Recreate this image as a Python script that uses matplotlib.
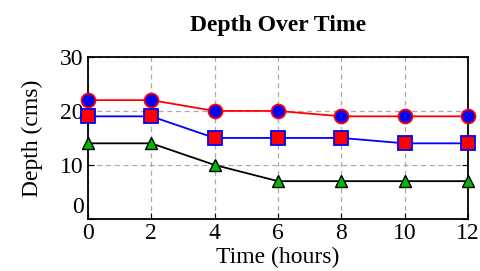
import matplotlib
matplotlib.use("Agg")
import matplotlib.pyplot as plt
import matplotlib.transforms as mtransforms

time_hours = [0, 2, 4, 6, 8, 10, 12]
series_circle = [22, 22, 20, 20, 19, 19, 19]
series_square = [19, 19, 15, 15, 15, 14, 14]
series_triangle = [14, 14, 10, 7, 7, 7, 7]
y_ticks = [0, 10, 20, 30]

plt.rcParams['font.family'] = ['Liberation Serif', 'DejaVu Serif']

fig = plt.figure(figsize=(4.8, 2.71), dpi=100)
ax = fig.add_axes([0.183, 0.192, 0.792, 0.598])

ax.plot(time_hours, series_circle, color='red', lw=1.3, marker='o', ms=10,
        mfc='blue', mec='red', mew=1.3, clip_on=False, zorder=3)
ax.plot(time_hours, series_square, color='blue', lw=1.3, marker='s', ms=9.5,
        mfc='red', mec='blue', mew=1.3, clip_on=False, zorder=3)
ax.plot(time_hours, series_triangle, color='black', lw=1.3, marker='^', ms=9,
        mfc='#00bb00', mec='black', mew=1.0, clip_on=False, zorder=3)

ax.set_xlim(0, 12)
ax.set_ylim(0, 30)
ax.set_xticks(time_hours)
ax.set_yticks(y_ticks)
ax.grid(True, color='#aaaaaa', ls=(0, (4, 3)), lw=0.9)
ax.tick_params(direction='in', length=4, labelsize=17, right=True, top=False, pad=3)
for s in ax.spines.values():
    s.set_linewidth(1.3)

# first y label drawn slightly higher as in reference
lbl0 = ax.get_yticklabels()[0]
lbl0.set_transform(lbl0.get_transform() + mtransforms.ScaledTranslation(0, 14/100, fig.dpi_scale_trans))

ax.set_title('Depth Over Time', fontsize=17, fontweight='bold', pad=19)
ax.set_xlabel('Time (hours)', fontsize=17, labelpad=2)
ax.set_ylabel('Depth (cms)', fontsize=17, labelpad=12)

fig.savefig('out.png', dpi=100)
